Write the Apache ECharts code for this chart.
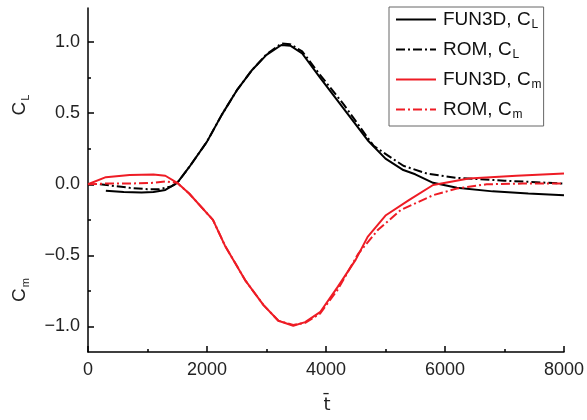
<!DOCTYPE html>
<html>
<head>
<meta charset="utf-8">
<script src="https://cdn.jsdelivr.net/npm/echarts@6/dist/echarts.min.js"></script>
<style>
  html, body { margin: 0; padding: 0; background: #fff; }
  #chart { width: 587px; height: 420px; }
</style>
</head>
<body>
<div id="chart"></div>
<script>
// Time histories of lift and moment coefficients: CFD (FUN3D) vs reduced-order model (ROM)
const fun3dCL = [
  [300, -0.045], [600, -0.055], [900, -0.058], [1100, -0.055], [1300, -0.04],
  [1500, 0.01], [1700, 0.12], [2000, 0.30], [2250, 0.49], [2500, 0.66],
  [2750, 0.80], [3000, 0.91], [3250, 0.98], [3400, 0.975], [3600, 0.92],
  [3900, 0.75], [4300, 0.53], [4700, 0.31], [5000, 0.18], [5300, 0.10],
  [5500, 0.07], [5800, 0.01], [6200, -0.025], [6800, -0.05], [7400, -0.065],
  [8000, -0.077]
];
const romCL = [
  [200, 0.0], [400, -0.01], [700, -0.025], [1000, -0.035], [1200, -0.035],
  [1400, -0.015], [1500, 0.01], [1700, 0.12], [2000, 0.30], [2250, 0.49],
  [2500, 0.66], [2750, 0.80], [3000, 0.915], [3250, 0.99], [3400, 0.985],
  [3600, 0.935], [3900, 0.77], [4300, 0.56], [4800, 0.27], [5300, 0.13],
  [5700, 0.075], [6200, 0.045], [7000, 0.025], [8000, 0.005]
];
const fun3dCm = [
  [0, 0.0], [300, 0.05], [700, 0.065], [1100, 0.068], [1300, 0.06],
  [1500, 0.01], [1700, -0.065], [2100, -0.25], [2300, -0.43], [2650, -0.68],
  [2950, -0.85], [3200, -0.96], [3450, -0.995], [3650, -0.97], [3900, -0.90],
  [4200, -0.72], [4500, -0.53], [4700, -0.37], [5000, -0.22], [5400, -0.11],
  [5800, -0.005], [6400, 0.04], [7200, 0.06], [8000, 0.075]
];
const romCm = [
  [0, 0.0], [300, 0.005], [700, 0.005], [1100, 0.01], [1300, 0.02],
  [1500, 0.01], [1700, -0.065], [2100, -0.25], [2300, -0.43], [2650, -0.68],
  [2950, -0.85], [3200, -0.96], [3450, -0.99], [3650, -0.975], [3900, -0.91],
  [4200, -0.74], [4540, -0.49], [4875, -0.32], [5260, -0.18], [5800, -0.077],
  [6200, -0.03], [6700, 0.0], [7300, 0.005], [8000, 0.005]
];
const yMajorTicks = [-1.0, -0.5, 0.0, 0.5, 1.0];
const yMinorTicks = [-0.75, -0.25, 0.25, 0.75];

const FONT = '"Liberation Sans", Arial, sans-serif';
const RED = '#ee1c25';
const DASHDOT = [9, 3, 2, 3];

const chart = echarts.init(document.getElementById('chart'));

const legendNames = {
  'FUN3D, CL': 'FUN3D, C{s|L}',
  'ROM, CL': 'ROM, C{s|L}',
  'FUN3D, Cm': 'FUN3D, C{s|m}',
  'ROM, Cm': 'ROM, C{s|m}'
};

chart.setOption({
  animation: false,
  backgroundColor: '#fff',
  grid: { left: 88, right: 19, top: 8, bottom: 68 },
  xAxis: {
    type: 'value', min: 0, max: 8000, interval: 2000,
    axisLine: { onZero: false, lineStyle: { color: '#000', width: 1.5 } },
    axisTick: { inside: true, length: 6, lineStyle: { color: '#000', width: 1.5 } },
    minorTick: { show: true, splitNumber: 2, length: 3, lineStyle: { color: '#000', width: 1.5 } },
    axisLabel: { fontFamily: FONT, fontSize: 18, color: '#222', margin: 9,
                 formatter: v => String(v) },
    splitLine: { show: false }
  },
  yAxis: [
    {
      type: 'value', min: -1.18, max: 1.24,
      axisLine: { show: true, onZero: false, lineStyle: { color: '#000', width: 1.5 } },
      axisTick: { show: true, inside: true, length: 6, customValues: yMajorTicks,
                  lineStyle: { color: '#000', width: 1.5 } },
      axisLabel: { fontFamily: FONT, fontSize: 18, color: '#222', margin: 8,
                   customValues: yMajorTicks,
                   formatter: v => v.toFixed(1).replace('-', '\u2212') },
      splitLine: { show: false }
    },
    {
      type: 'value', min: -1.18, max: 1.24, position: 'left',
      axisLine: { show: false, onZero: false },
      axisTick: { show: true, inside: true, length: 3, customValues: yMinorTicks,
                  lineStyle: { color: '#000', width: 1.5 } },
      axisLabel: { show: false },
      splitLine: { show: false }
    }
  ],
  legend: {
    orient: 'vertical', left: 389, top: 7,
    padding: [3, 2, 5, 6], itemGap: 9,
    itemWidth: 40, itemHeight: 20,
    borderColor: '#666', borderWidth: 1,
    backgroundColor: '#fff',
    itemStyle: { opacity: 0 },
    data: ['FUN3D, CL', 'ROM, CL', 'FUN3D, Cm', 'ROM, Cm'],
    formatter: name => legendNames[name],
    textStyle: {
      fontFamily: FONT, fontSize: 19, color: '#111', padding: [0, 0, 0, 2],
      rich: { s: { fontFamily: FONT, fontSize: 12, color: '#111', padding: [11, 0, 0, 1] } }
    }
  },
  series: [
    { name: 'FUN3D, CL', type: 'line', data: fun3dCL, symbol: 'none',
      lineStyle: { color: '#000', width: 2 }, itemStyle: { color: '#000' } },
    { name: 'ROM, CL', type: 'line', data: romCL, symbol: 'none',
      lineStyle: { color: '#000', width: 2, type: DASHDOT }, itemStyle: { color: '#000' } },
    { name: 'FUN3D, Cm', type: 'line', data: fun3dCm, symbol: 'none',
      lineStyle: { color: RED, width: 2 }, itemStyle: { color: RED } },
    { name: 'ROM, Cm', type: 'line', data: romCm, symbol: 'none',
      lineStyle: { color: RED, width: 2, type: DASHDOT }, itemStyle: { color: RED } }
  ],
  graphic: [
    {
      type: 'text', x: 20, y: 105, rotation: Math.PI / 2,
      style: {
        text: '{c|C}{s|L}',
        align: 'center', verticalAlign: 'middle',
        rich: {
          c: { fontFamily: FONT, fontSize: 19, fill: '#222' },
          s: { fontFamily: FONT, fontSize: 11, fill: '#222', padding: [11, 0, 0, 1] }
        }
      }
    },
    {
      type: 'text', x: 20, y: 290, rotation: Math.PI / 2,
      style: {
        text: '{c|C}{s|m}',
        align: 'center', verticalAlign: 'middle',
        rich: {
          c: { fontFamily: FONT, fontSize: 19, fill: '#222' },
          s: { fontFamily: FONT, fontSize: 11, fill: '#222', padding: [11, 0, 0, 1] }
        }
      }
    },
    {
      type: 'text', x: 327, y: 405,
      style: {
        text: 't\u0304',
        align: 'center', verticalAlign: 'middle',
        fontFamily: '"DejaVu Sans", ' + FONT, fontSize: 18, fill: '#222'
      }
    }
  ]
});
</script>
</body>
</html>
